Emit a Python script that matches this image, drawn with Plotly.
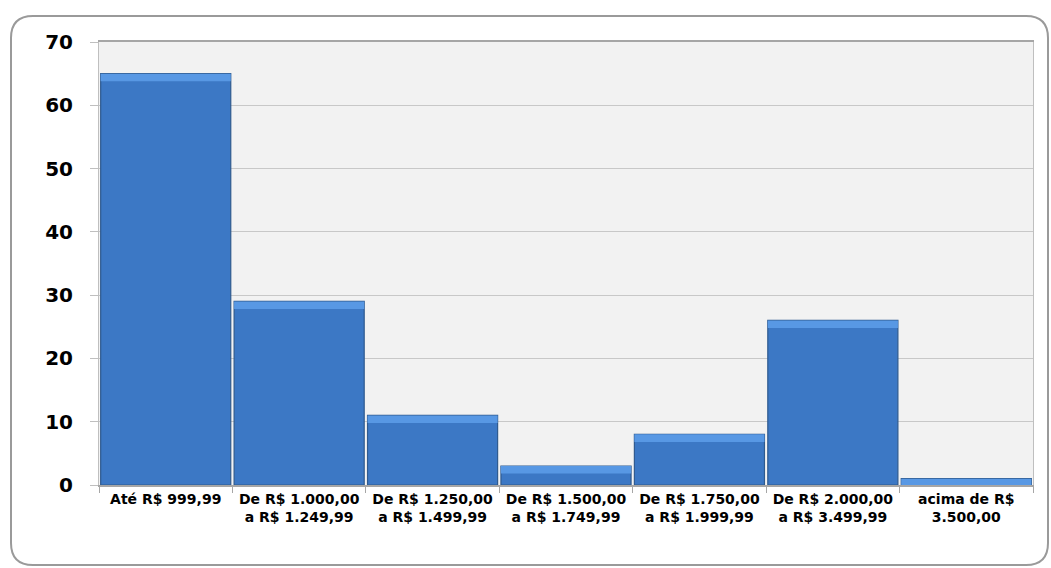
import plotly.graph_objects as go

categories = ["Até R$ 999,99", "De R$ 1.000,00<br>a R$ 1.249,99", "De R$ 1.250,00<br>a R$ 1.499,99",
              "De R$ 1.500,00<br>a R$ 1.749,99", "De R$ 1.750,00<br>a R$ 1.999,99",
              "De R$ 2.000,00<br>a R$ 3.499,99", "acima de R$<br>3.500,00"]
values = [65, 29, 11, 3, 8, 26, 1]
y_ticks = [0, 10, 20, 30, 40, 50, 60, 70]

W, H = 1051, 568
ml, mr, mt, mb = 99, 1051 - 1033, 42, 568 - 485
pw, ph = W - ml - mr, H - mt - mb

bevel = [min(1.2, v) for v in values]
bevel_base = [v - b for v, b in zip(values, bevel)]

fig = go.Figure()
fig.add_trace(go.Bar(
    x=categories, y=values,
    marker=dict(color="#3C78C5", line=dict(color="#2F5A8E", width=1.2)),
    hoverinfo="x+y",
))
fig.add_trace(go.Bar(
    x=categories, y=bevel, base=bevel_base,
    marker=dict(color="#5898E4", line=dict(color="#3C78C5", width=0)),
    hoverinfo="skip",
))

def px2x(p):
    return (p - ml) / pw

def py2y(p):
    return (H - mb - p) / ph

# rounded frame
x0, x1, y0, y1 = px2x(11), px2x(1048), py2y(16), py2y(565)
rx, ry = 22 / pw, 22 / ph
path = (f"M {x0+rx},{y0} L {x1-rx},{y0} Q {x1},{y0} {x1},{y0-ry} "
        f"L {x1},{y1+ry} Q {x1},{y1} {x1-rx},{y1} L {x0+rx},{y1} Q {x0},{y1} {x0},{y1+ry} "
        f"L {x0},{y0-ry} Q {x0},{y0} {x0+rx},{y0} Z")

fig.update_layout(
    width=W, height=H,
    margin=dict(l=ml, r=mr, t=mt, b=mb),
    paper_bgcolor="white",
    plot_bgcolor="#F2F2F2",
    bargap=0.025,
    barmode="overlay",
    showlegend=False,
    font=dict(family="DejaVu Sans", color="black"),
    shapes=[dict(type="path", xref="paper", yref="paper", path=path,
                 line=dict(color="#9A9A9A", width=2), fillcolor="rgba(0,0,0,0)", layer="below")],
    xaxis=dict(
        type="category", tickson="boundaries", ticks="outside", ticklen=6, tickcolor="#A6A6A6",
        showline=True, linecolor="#A6A6A6", linewidth=1.5, mirror=True,
        tickfont=dict(size=14, family="DejaVu Sans", weight="bold"),
        showgrid=False,
    ),
    yaxis=dict(
        range=[0, 70], tickvals=y_ticks, ticks="outside", ticklen=8, tickcolor="#BFBFBF",
        showline=True, linecolor="#BFBFBF", linewidth=1, mirror=True,
        gridcolor="#C8C8C8", gridwidth=1, zeroline=False,
        tickfont=dict(size=20, family="DejaVu Sans", weight="bold"),
        ticklabelstandoff=13,
    ),
)

fig.write_html(
    "out.html",
    config={"displayModeBar": False},
    post_script="document.body.style.margin='0';document.body.style.overflow='hidden';",
)
